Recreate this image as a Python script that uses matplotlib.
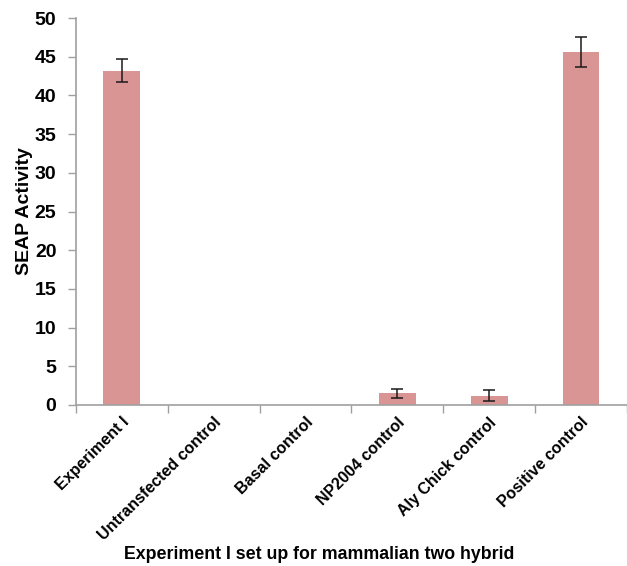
import matplotlib
matplotlib.use("Agg")
import matplotlib.pyplot as plt
import numpy as np

categories = ["Experiment I", "Untransfected control", "Basal control",
              "NP2004 control", "Aly Chick control", "Positive control"]
seap = [43.2, 0.0, 0.0, 1.5, 1.2, 45.6]
seap_err = [1.5, 0.0, 0.0, 0.57, 0.75, 1.9]

plt.rcParams['font.family'] = ['Liberation Sans', 'DejaVu Sans']
plt.rcParams['font.weight'] = 'bold'

fig = plt.figure(figsize=(6.27, 5.66), dpi=100)
ax = fig.add_axes([0.121, 0.2845, 0.879, 0.6835])

x = np.arange(len(categories))
err = [e if e > 0 else np.nan for e in seap_err]
ax.bar(x, seap, width=0.4, color='#d99594', zorder=2)
ax.errorbar(x, seap, yerr=err, fmt='none', ecolor='#1a1a1a', elinewidth=1.1,
            capsize=4, capthick=1.1, zorder=3)

ax.set_xlim(-0.5, len(categories) - 0.5)
ax.set_ylim(0, 50)
ax.set_yticks(np.arange(0, 51, 5))

# boundary ticks on the major locator, names on the minor one
ax.set_xticks(np.arange(-0.5, len(categories), 1.0), minor=False)
ax.set_xticklabels([])
ax.set_xticks(x, minor=True)
ax.set_xticklabels(categories, minor=True, rotation=45, ha='right',
                   rotation_mode='anchor', fontsize=11.5, fontweight='bold')
ax.tick_params(axis='x', which='minor', length=0, pad=7)
ax.tick_params(axis='x', which='major', length=6, color='#a0a0a0', width=1)
ax.tick_params(axis='y', length=6, color='#a0a0a0', width=1, labelsize=14, pad=8)

for s in ['top', 'right']:
    ax.spines[s].set_visible(False)
for s in ['left', 'bottom']:
    ax.spines[s].set_color('#a0a0a0')
    ax.spines[s].set_linewidth(1.2)

ax.set_ylabel("SEAP Activity", fontsize=14, fontweight='bold', labelpad=1)
fig.text(0.509, 0.006, "Experiment I set up for mammalian two hybrid",
         ha='center', va='bottom', fontsize=12.8, fontweight='bold')

fig.savefig("out.png", dpi=100)
